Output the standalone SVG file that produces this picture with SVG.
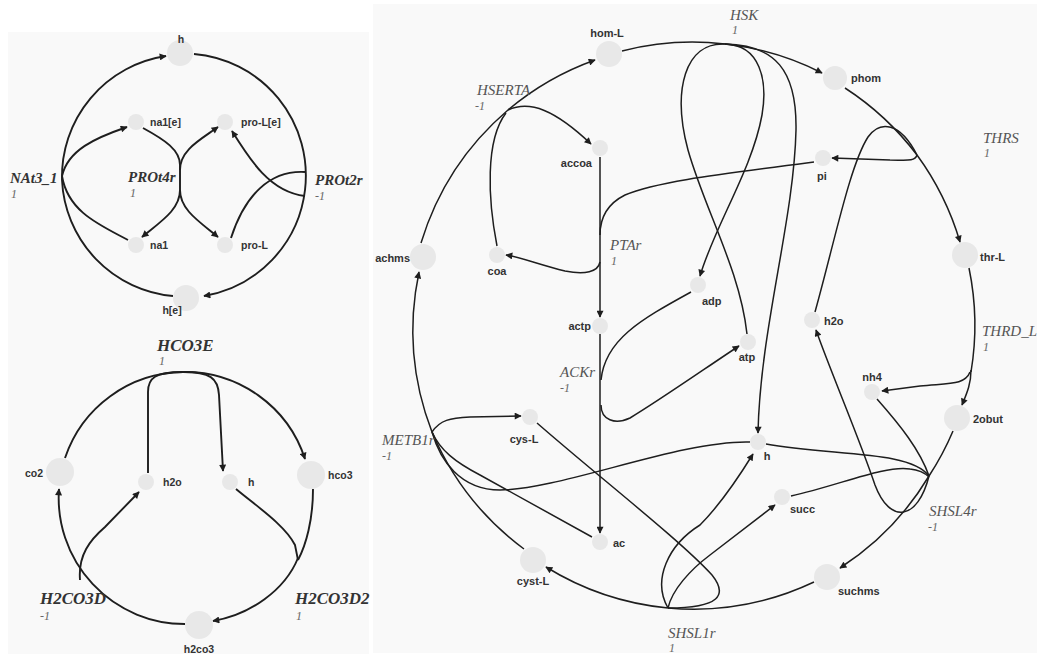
<svg xmlns="http://www.w3.org/2000/svg" width="1037" height="659" viewBox="0 0 1037 659">
<style>
.panel{fill:#f9f9f9}
.node{fill:#e8e8e8}
.lbl{font-family:"Liberation Sans",Arial,sans-serif;font-weight:bold;font-size:11px;fill:#333}
.sm{font-size:10.5px}
.rx{font-family:"Liberation Serif","Times New Roman",serif;font-style:italic;font-size:15px;fill:#555}
.rxb{font-weight:bold;fill:#333}
.big{font-size:17px}
.st{font-family:"Liberation Serif","Times New Roman",serif;font-style:italic;font-size:12px;fill:#666}
.e{fill:none;stroke:#1e1e1e;stroke-width:1.5}
.eb{stroke-width:1.9}
.a{marker-end:url(#arr)}
</style>
<defs>
<marker id="arr" viewBox="0 0 10 10" refX="9" refY="5" markerWidth="9" markerHeight="7" markerUnits="userSpaceOnUse" orient="auto">
<path d="M0,0 L10,5 L0,10 z" fill="#1e1e1e"/>
</marker>
</defs>
<rect width="1037" height="659" fill="#ffffff"/>
<rect class="panel" x="8" y="32" width="361" height="622"/>
<rect class="panel" x="373" y="4" width="664" height="649"/>

<g id="connectors">
<!-- top-left: NAt3_1, PROt4r, PROt2r -->
<path class="e eb" d="M173 296 A122 122 0 0 1 62 180"/>
<path class="e eb a" d="M62 180 A122 122 0 0 1 166 56"/>
<path class="e eb a" d="M62 176 C68 150 95 138 127 127"/>
<path class="e eb" d="M128 240 C100 225 68 212 62 176"/>
<path class="e eb" d="M143 128 C165 140 180 150 180 165 L180 197"/>
<path class="e eb a" d="M180 170 C180 150 200 140 218 127"/>
<path class="e eb a" d="M180 190 C180 210 160 222 142 237"/>
<path class="e eb a" d="M180 190 C180 210 200 222 218 237"/>
<path class="e eb" d="M194 54 A122 122 0 0 1 305 190"/>
<path class="e eb a" d="M305 190 A122 122 0 0 1 204 296"/>
<path class="e eb" d="M231 238 C245 195 270 170 305 172"/>
<path class="e eb a" d="M305 196 C270 192 250 160 232 131"/>

<!-- bottom-left: HCO3E, H2CO3D, H2CO3D2 -->
<path class="e eb" d="M65 458 A126 126 0 0 1 183 372"/>
<path class="e eb a" d="M183 372 A126 126 0 0 1 305 459"/>
<path class="e eb" d="M148 473 L148 392 C148 378 155 372 183 372"/>
<path class="e eb a" d="M183 372 C210 372 218 378 219 395 L223 471"/>
<path class="e eb a" d="M185 624 A126 126 0 0 1 59 489"/>
<path class="e eb a" d="M80 580 C78 555 90 540 105 527 L139 492"/>
<path class="e eb" d="M313 489 C313 520 306 545 298 560"/>
<path class="e eb" d="M236 489 C255 505 285 525 295 545 L298 560"/>
<path class="e eb a" d="M298 558 C285 590 250 615 213 621"/>

<!-- right: HSERTA -->
<path class="e" d="M421 243 A283 283 0 0 1 508 110"/>
<path class="e a" d="M508 110 A283 283 0 0 1 595 60"/>
<path class="e" d="M506 113 C485 140 488 200 497 246"/>
<path class="e a" d="M508 110 C530 100 555 110 591 144"/>
<!-- HSK -->
<path class="e" d="M622 51 A283 283 0 0 1 725 44"/>
<path class="e a" d="M725 44 A283 283 0 0 1 822 73"/>
<path class="e" d="M725 44 C685 42 672 90 688 150 C705 210 740 270 747 334"/>
<path class="e a" d="M725 44 C760 45 768 80 762 115 C752 170 715 225 700 276"/>
<path class="e a" d="M725 44 C775 45 797 70 796 130 C794 220 760 330 758 433"/>
<!-- THRS -->
<path class="e" d="M845 88 A283 283 0 0 1 917 155"/>
<path class="e a" d="M917 155 A283 283 0 0 1 960 242"/>
<path class="e a" d="M917 155 C915 162 905 160 890 160 L832 158"/>
<path class="e" d="M815 312 C835 240 850 165 868 137 C880 120 900 122 917 155"/>
<!-- THRD_L -->
<path class="e" d="M969 268 A283 283 0 0 1 971 372"/>
<path class="e a" d="M971 370 C971 385 966 395 962 405"/>
<path class="e a" d="M970 372 C965 385 950 383 920 386 L882 391"/>
<!-- SHSL4r -->
<path class="e" d="M953 431 A283 283 0 0 1 929 476"/>
<path class="e a" d="M929 476 A283 283 0 0 1 840 568"/>
<path class="e" d="M877 399 C900 425 920 450 929 476"/>
<path class="e" d="M766 444 C830 456 910 450 929 476"/>
<path class="e" d="M791 496 C840 485 885 465 910 469 C920 470 926 474 929 477"/>
<path class="e a" d="M929 476 C918 520 890 525 875 485 C860 440 830 370 816 330"/>
<!-- SHSL1r -->
<path class="e" d="M814 582 A283 283 0 0 1 668 608"/>
<path class="e a" d="M668 608 A283 283 0 0 1 546 567"/>
<path class="e" d="M537 423 C600 478 680 540 712 575 C728 595 720 608 668 608"/>
<path class="e a" d="M668 608 C652 580 668 545 700 525 C720 505 740 475 753 454"/>
<path class="e a" d="M668 608 C672 590 690 570 710 555 L775 505"/>
<!-- METB1r -->
<path class="e" d="M524 549 A283 283 0 0 1 432 432"/>
<path class="e a" d="M432 432 A283 283 0 0 1 419 272"/>
<path class="e a" d="M432 432 C440 420 450 418 470 417 L521 416"/>
<path class="e" d="M432 432 C440 450 455 462 480 475 L592 537"/>
<path class="e" d="M432 432 C440 460 460 490 500 490 C560 490 680 440 750 442"/>
<!-- PTAr -->
<path class="e a" d="M600 157 L600 317"/>
<path class="e" d="M814 162 C740 172 660 180 625 195 C605 205 600 220 600 235"/>
<path class="e a" d="M600 262 C598 272 585 275 565 271 C540 265 520 257 506 255"/>
<!-- ACKr -->
<path class="e a" d="M600 334 L600 533"/>
<path class="e" d="M691 292 C640 320 605 340 601 380"/>
<path class="e a" d="M601 405 C601 420 615 425 630 418 C660 400 710 365 739 346"/>
</g>

<!-- top-left nodes -->
<g id="n-h-top"><circle class="node" cx="180" cy="53" r="13"/><text class="lbl sm" x="181" y="43" text-anchor="middle">h</text></g>
<g id="n-na1e"><circle class="node" cx="136" cy="122" r="8"/><text class="lbl sm" x="150" y="126">na1[e]</text></g>
<g id="n-proLe"><circle class="node" cx="225" cy="122" r="8"/><text class="lbl sm" x="241" y="126">pro-L[e]</text></g>
<g id="n-na1"><circle class="node" cx="136" cy="245" r="8"/><text class="lbl sm" x="150" y="249">na1</text></g>
<g id="n-proL"><circle class="node" cx="225" cy="245" r="8"/><text class="lbl sm" x="241" y="249">pro-L</text></g>
<g id="n-he"><circle class="node" cx="186" cy="298" r="13"/><text class="lbl sm" x="172" y="314" text-anchor="middle">h[e]</text></g>
<g id="r-NAt3_1"><text class="rx rxb" x="10" y="183">NAt3_1</text><text class="st" x="11" y="198">1</text></g>
<g id="r-PROt4r"><text class="rx rxb" x="128" y="182">PROt4r</text><text class="st" x="130" y="197">1</text></g>
<g id="r-PROt2r"><text class="rx rxb" x="315" y="185">PROt2r</text><text class="st" x="315" y="200">-1</text></g>

<!-- bottom-left nodes -->
<g id="n-co2"><circle class="node" cx="60" cy="472" r="14"/><text class="lbl sm" x="43" y="477" text-anchor="end">co2</text></g>
<g id="n-h2o-l"><circle class="node" cx="146" cy="482" r="8"/><text class="lbl sm" x="163" y="486">h2o</text></g>
<g id="n-h-l"><circle class="node" cx="230" cy="482" r="8"/><text class="lbl sm" x="248" y="486">h</text></g>
<g id="n-hco3"><circle class="node" cx="311" cy="475" r="14"/><text class="lbl sm" x="328" y="479">hco3</text></g>
<g id="n-h2co3"><circle class="node" cx="199" cy="625" r="14"/><text class="lbl sm" x="199" y="653" text-anchor="middle">h2co3</text></g>
<g id="r-HCO3E"><text class="rx rxb big" x="157" y="351">HCO3E</text><text class="st" x="159" y="365">1</text></g>
<g id="r-H2CO3D"><text class="rx rxb big" x="40" y="604">H2CO3D</text><text class="st" x="40" y="620">-1</text></g>
<g id="r-H2CO3D2"><text class="rx rxb big" x="295" y="604">H2CO3D2</text><text class="st" x="296" y="620">1</text></g>

<!-- right nodes -->
<g id="n-homL"><circle class="node" cx="609" cy="54" r="13"/><text class="lbl" x="607" y="37" text-anchor="middle">hom-L</text></g>
<g id="n-phom"><circle class="node" cx="835" cy="78" r="12"/><text class="lbl" x="851" y="82">phom</text></g>
<g id="n-accoa"><circle class="node" cx="600" cy="148" r="8"/><text class="lbl" x="592" y="167" text-anchor="end">accoa</text></g>
<g id="n-pi"><circle class="node" cx="823" cy="158" r="8"/><text class="lbl" x="822" y="180" text-anchor="middle">pi</text></g>
<g id="n-achms"><circle class="node" cx="423" cy="257" r="13"/><text class="lbl" x="410" y="262" text-anchor="end">achms</text></g>
<g id="n-coa"><circle class="node" cx="497" cy="255" r="8"/><text class="lbl" x="497" y="275" text-anchor="middle">coa</text></g>
<g id="n-thrL"><circle class="node" cx="965" cy="255" r="13"/><text class="lbl" x="980" y="261">thr-L</text></g>
<g id="n-adp"><circle class="node" cx="698" cy="285" r="8"/><text class="lbl" x="702" y="305">adp</text></g>
<g id="n-actp"><circle class="node" cx="600" cy="326" r="8"/><text class="lbl" x="591" y="330" text-anchor="end">actp</text></g>
<g id="n-h2o-r"><circle class="node" cx="812" cy="320" r="8"/><text class="lbl" x="824" y="325">h2o</text></g>
<g id="n-atp"><circle class="node" cx="748" cy="342" r="8"/><text class="lbl" x="747" y="361" text-anchor="middle">atp</text></g>
<g id="n-nh4"><circle class="node" cx="872" cy="392" r="8"/><text class="lbl" x="872" y="381" text-anchor="middle">nh4</text></g>
<g id="n-2obut"><circle class="node" cx="957" cy="418" r="13"/><text class="lbl" x="973" y="423">2obut</text></g>
<g id="n-cysL"><circle class="node" cx="530" cy="417" r="8"/><text class="lbl" x="524" y="443" text-anchor="middle">cys-L</text></g>
<g id="n-h-r"><circle class="node" cx="758" cy="442" r="8"/><text class="lbl" x="767" y="460" text-anchor="middle">h</text></g>
<g id="n-succ"><circle class="node" cx="782" cy="497" r="8"/><text class="lbl" x="790" y="513">succ</text></g>
<g id="n-ac"><circle class="node" cx="600" cy="542" r="8"/><text class="lbl" x="613" y="547">ac</text></g>
<g id="n-cystL"><circle class="node" cx="533" cy="560" r="13"/><text class="lbl" x="533" y="585" text-anchor="middle">cyst-L</text></g>
<g id="n-suchms"><circle class="node" cx="827" cy="577" r="13"/><text class="lbl" x="838" y="595">suchms</text></g>

<g id="r-HSK"><text class="rx" x="730" y="20">HSK</text><text class="st" x="732" y="34">1</text></g>
<g id="r-HSERTA"><text class="rx" x="477" y="95">HSERTA</text><text class="st" x="475" y="110">-1</text></g>
<g id="r-THRS"><text class="rx" x="983" y="143">THRS</text><text class="st" x="984" y="157">1</text></g>
<g id="r-PTAr"><text class="rx" x="610" y="250">PTAr</text><text class="st" x="611" y="265">1</text></g>
<g id="r-THRD_L"><text class="rx" x="982" y="336">THRD_L</text><text class="st" x="983" y="351">1</text></g>
<g id="r-ACKr"><text class="rx" x="560" y="377">ACKr</text><text class="st" x="560" y="392">-1</text></g>
<g id="r-METB1r"><text class="rx" x="382" y="445">METB1r</text><text class="st" x="382" y="460">-1</text></g>
<g id="r-SHSL4r"><text class="rx" x="929" y="516">SHSL4r</text><text class="st" x="928" y="531">-1</text></g>
<g id="r-SHSL1r"><text class="rx" x="668" y="638">SHSL1r</text><text class="st" x="669" y="652">1</text></g>
</svg>
